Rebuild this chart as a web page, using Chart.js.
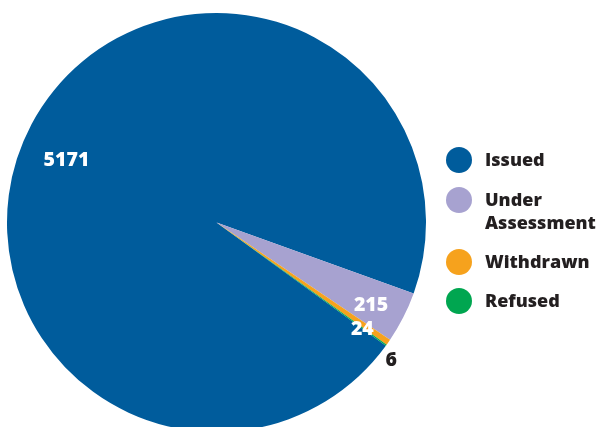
<!DOCTYPE html>
<html>
<head>
<meta charset="utf-8">
<script src="https://cdn.jsdelivr.net/npm/chart.js@4"></script>
<style>
  html, body { margin: 0; padding: 0; width: 600px; height: 427px; overflow: hidden; background: #ffffff; }
  #wrap { position: absolute; left: 0; top: 0; width: 600px; height: 444px; }
  #legend { position: absolute; left: 446px; top: 0; margin: 0; padding: 0; list-style: none;
            font-family: "Open Sans", sans-serif; font-weight: 800; font-size: 18px; color: #231f20; }
  #legend li { position: absolute; left: 0; line-height: 23px; white-space: nowrap; }
  #legend .dot { position: absolute; left: 0; top: -1.5px; width: 26px; height: 26px; border-radius: 50%; }
  #legend .txt { position: absolute; left: 39px; top: 0; }
</style>
</head>
<body>
<div id="wrap"><canvas id="c"></canvas></div>
<ul id="legend"></ul>
<script>
const categories = ["Issued", "Under Assessment", "Withdrawn", "Refused"];
const legendLines = [["Issued"], ["Under", "Assessment"], ["Withdrawn"], ["Refused"]];
const values = [5171, 215, 24, 6];
const sliceColors = ["#005c9c", "#a7a2d0", "#f6a21d", "#00a650"];

// label placement (relative to each arc): radius fraction, angle offset in degrees, text colour
const labelPlacement = [
  { r: 0.777, da: -5.1, color: "#ffffff" },
  { r: 0.835, da: 1.0, color: "#ffffff" },
  { r: 0.86, da: 1.1, color: "#ffffff" },
  { r: 1.06, da: 2.3, color: "#231f20" }
];

const sliceLabels = {
  id: "sliceLabels",
  afterDatasetsDraw(chart) {
    const ctx = chart.ctx;
    const meta = chart.getDatasetMeta(0);
    ctx.save();
    ctx.font = "800 19.5px 'Open Sans', sans-serif";
    ctx.textAlign = "center";
    ctx.textBaseline = "middle";
    meta.data.forEach((arc, i) => {
      const p = arc.getProps(["x", "y", "startAngle", "endAngle", "outerRadius"], true);
      const mid = (p.startAngle + p.endAngle) / 2 + labelPlacement[i].da * Math.PI / 180;
      const rr = p.outerRadius * labelPlacement[i].r;
      ctx.fillStyle = labelPlacement[i].color;
      ctx.fillText(String(chart.data.datasets[0].data[i]), p.x + Math.cos(mid) * rr, p.y + Math.sin(mid) * rr + 1);
    });
    ctx.restore();
  }
};

const total = values.reduce((a, b) => a + b, 0);
// rotate so that the Issued slice ends just above the Under Assessment wedge
const rotation = 90 + 19.78 + 360 * (total - values[0]) / total;

new Chart(document.getElementById("c"), {
  type: "pie",
  data: {
    labels: categories,
    datasets: [{ data: values, backgroundColor: sliceColors, borderWidth: 0, hoverOffset: 0 }]
  },
  options: {
    responsive: true,
    maintainAspectRatio: false,
    animation: false,
    rotation: rotation,
    layout: { padding: { left: 7, top: 13, right: 174, bottom: 12 } },
    plugins: { legend: { display: false }, tooltip: { enabled: false } }
  },
  plugins: [sliceLabels]
});

// HTML legend
const legendTops = [148, 188, 250, 289];
const ul = document.getElementById("legend");
categories.forEach((c, i) => {
  const li = document.createElement("li");
  li.style.top = legendTops[i] + "px";
  const dot = document.createElement("span");
  dot.className = "dot";
  dot.style.background = sliceColors[i];
  const t = document.createElement("span");
  t.className = "txt";
  t.innerHTML = legendLines[i].join("<br>");
  li.appendChild(dot);
  li.appendChild(t);
  ul.appendChild(li);
});
</script>
</body>
</html>
